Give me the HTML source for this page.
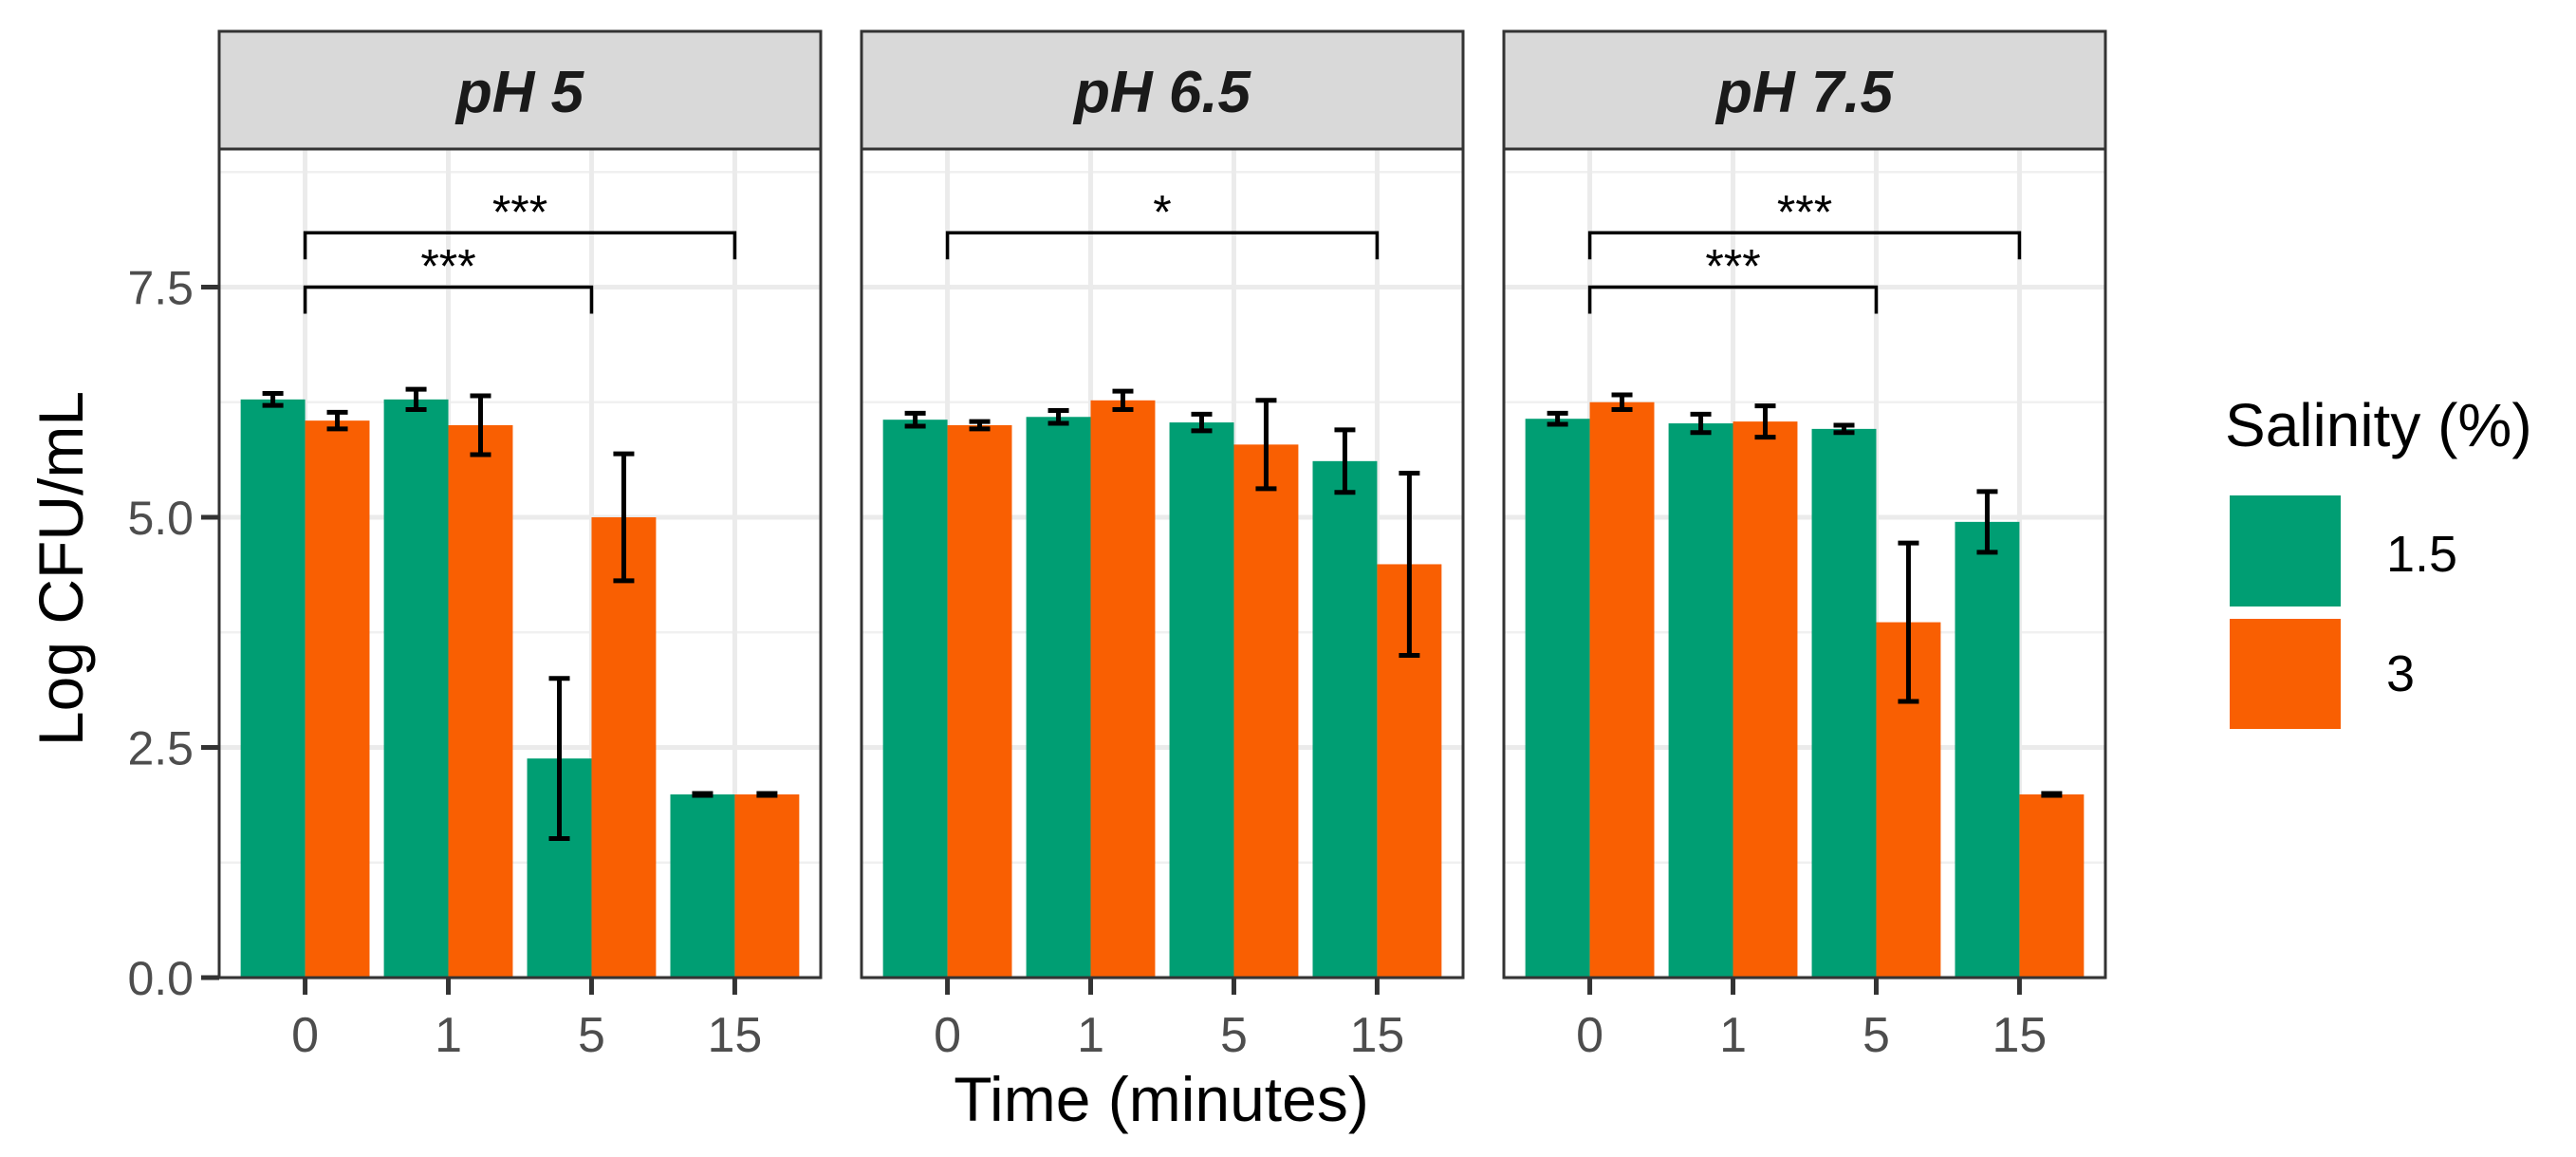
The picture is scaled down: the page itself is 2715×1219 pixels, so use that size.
<!DOCTYPE html>
<html><head><meta charset="utf-8"><style>
html,body{margin:0;padding:0;background:#fff;}
svg{display:block;font-family:"Liberation Sans",Arial,sans-serif;}
</style></head><body>
<svg id="chart" width="2715" height="1219" viewBox="0 0 2715 1219" xmlns="http://www.w3.org/2000/svg">
<rect x="0" y="0" width="2715" height="1219" fill="#fff"/>
<text x="0" y="0" transform="translate(87,599) rotate(-90)" text-anchor="middle" font-size="66" fill="#000">Log CFU/mL</text>
<text x="1224" y="1181" text-anchor="middle" font-size="66" fill="#000">Time (minutes)</text>
<g>
<text x="2345" y="470" font-size="64" fill="#000">Salinity (%)</text>
<rect x="2350" y="522" width="117" height="117" fill="#009E73"/>
<rect x="2350" y="652" width="117" height="116" fill="#F95F02"/>
<text x="2515" y="602" font-size="54" fill="#000">1.5</text>
<text x="2515" y="728" font-size="54" fill="#000">3</text>
</g>
<g id="panels"></g>
</svg>
<script>
const categories = ["0","1","5","15"];
const facets = ["pH 5","pH 6.5","pH 7.5"];
const yTicks = [0, 2.5, 5, 7.5];
const yTickLabels = ["0.0","2.5","5.0","7.5"];
const green_pH5 = [6.28, 6.28, 2.38, 1.99];
const greenErr_pH5 = [0.065, 0.11, 0.87, 0.01];
const orange_pH5 = [6.05, 6.0, 5.0, 1.99];
const orangeErr_pH5 = [0.09, 0.32, 0.69, 0.01];
const green_pH65 = [6.06, 6.09, 6.03, 5.61];
const greenErr_pH65 = [0.07, 0.07, 0.09, 0.34];
const orange_pH65 = [6.0, 6.27, 5.79, 4.49];
const orangeErr_pH65 = [0.04, 0.1, 0.48, 0.99];
const green_pH75 = [6.07, 6.02, 5.96, 4.95];
const greenErr_pH75 = [0.06, 0.1, 0.04, 0.33];
const orange_pH75 = [6.25, 6.04, 3.86, 1.99];
const orangeErr_pH75 = [0.08, 0.17, 0.86, 0.01];
const brackets_pH5 = [[0,3,8.09,"***"],[0,2,7.5,"***"]];
const brackets_pH65 = [[0,3,8.09,"*"]];
const brackets_pH75 = [[0,3,8.09,"***"],[0,2,7.5,"***"]];

const greens=[green_pH5,green_pH65,green_pH75], gErrs=[greenErr_pH5,greenErr_pH65,greenErr_pH75];
const oranges=[orange_pH5,orange_pH65,orange_pH75], oErrs=[orangeErr_pH5,orangeErr_pH65,orangeErr_pH75];
const brackets=[brackets_pH5,brackets_pH65,brackets_pH75];
const panelLeft=[231,908,1585], panelW=634, plotTop=157, plotBot=1030, stripTop=33;
const yMax=9.0;
const NS="http://www.w3.org/2000/svg";
const root=document.getElementById('panels');
function mk(tag,attrs,parent){const e=document.createElementNS(NS,tag);for(const k in attrs)e.setAttribute(k,attrs[k]);(parent||root).appendChild(e);return e;}
function yS(v){return plotBot-(v/yMax)*(plotBot-plotTop);}
facets.forEach((f,p)=>{
  const L=panelLeft[p], unit=panelW/(categories.length-1+1.2);
  const xS=i=>L+unit*(0.6+i);
  const g=mk('g',{});
  
  
  // strip
  const st=mk('rect',{x:L,y:stripTop,width:panelW,height:plotTop-stripTop,fill:'#d9d9d9',stroke:'#333',"stroke-width":3},g);
  
  
  const stt=mk('text',{x:L+panelW/2,y:118,"text-anchor":"middle","font-size":62,"font-weight":"bold","font-style":"italic",fill:'#1a1a1a'},g);
  stt.textContent=f;
  
  
  mk('rect',{x:L,y:plotTop,width:panelW,height:plotBot-plotTop,fill:'#fff'},g);
  // grid minor
  [1.25,3.75,6.25,8.75].forEach(v=>{const l=mk('line',{x1:L,x2:L+panelW,y1:yS(v),y2:yS(v),stroke:'#f0f0f0',"stroke-width":2.5},g);
    
    });
  yTicks.forEach(v=>{const l=mk('line',{x1:L,x2:L+panelW,y1:yS(v),y2:yS(v),stroke:'#ebebeb',"stroke-width":5},g);
    
    });
  categories.forEach((c,i)=>{const l=mk('line',{x1:xS(i),x2:xS(i),y1:plotTop,y2:plotBot,stroke:'#ebebeb',"stroke-width":5},g);
    
    });
  // bars
  const bw=unit*0.45;
  categories.forEach((c,i)=>{
    [[greens[p][i],gErrs[p][i],'#009E73',-1,'bar-1-5'],[oranges[p][i],oErrs[p][i],'#F95F02',0,'bar-3']].forEach(([v,e,col,off,nm])=>{
      const x=xS(i)+off*bw;
      const r=mk('rect',{x:x,y:yS(v),width:bw,height:yS(0)-yS(v),fill:col},g);
      
      
      const cx=x+bw/2, y1=yS(v+e), y2=yS(v-e);
      const eb=mk('path',{d:`M${cx-11},${y1}H${cx+11}M${cx},${y1}V${y2}M${cx-11},${y2}H${cx+11}`,stroke:'#000',"stroke-width":5,fill:'none'},g);
      
      
    });
  });
  // brackets
  brackets[p].forEach(([a,b,v,lab])=>{
    const y=yS(v), x1=xS(a), x2=xS(b), tip=28;
    const br=mk('path',{d:`M${x1},${y+tip}V${y}H${x2}V${y+tip}`,stroke:'#000',"stroke-width":3.5,fill:'none'},g);
    
    
    const t=mk('text',{x:(x1+x2)/2,y:y-5,"text-anchor":"middle","font-size":50,fill:'#000'},g);
    t.textContent=lab;
    
    
  });
  // border
  const bd=mk('rect',{x:L,y:plotTop,width:panelW,height:plotBot-plotTop,fill:'none',stroke:'#333',"stroke-width":3},g);
  
  
  // x ticks
  categories.forEach((c,i)=>{
    const tk=mk('line',{x1:xS(i),x2:xS(i),y1:plotBot,y2:plotBot+18,stroke:'#333',"stroke-width":5},g);
    
    
    const t=mk('text',{x:xS(i),y:1108,"text-anchor":"middle","font-size":52,fill:'#4d4d4d'},g);
    t.textContent=c;
    
    
  });
  if(p===0){
    yTicks.forEach((v,k)=>{
      const tk=mk('line',{x1:L-19,x2:L,y1:yS(v),y2:yS(v),stroke:'#333',"stroke-width":5},g);
      
      
      const t=mk('text',{x:L-27,y:yS(v)+18,"text-anchor":"end","font-size":50,fill:'#4d4d4d'},g);
      t.textContent=yTickLabels[k];
      
      
    });
  }
});
</script>
</body></html>
